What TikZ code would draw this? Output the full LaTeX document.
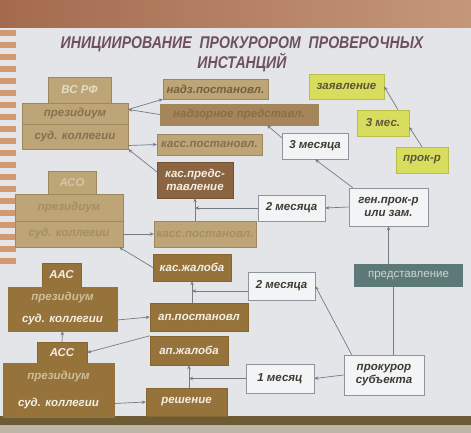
\documentclass[tikz,border=0pt]{standalone}
\usepackage{fontspec}
\setmainfont{Liberation Sans}
\usetikzlibrary{arrows.meta}

\definecolor{wallA}{HTML}{A46A4E}
\definecolor{wallB}{HTML}{C5977A}
\definecolor{slidebg}{HTML}{E3E5E9}
\definecolor{stripe}{HTML}{D39A72}
\definecolor{bandA}{HTML}{6B5C36}
\definecolor{bandB}{HTML}{BDB5A6}
\definecolor{titlecol}{HTML}{6E5159}
\definecolor{tanfill}{HTML}{BDA578}
\definecolor{tanedge}{HTML}{9D875C}
\definecolor{tantext}{HTML}{86704E}
\definecolor{lighttan}{HTML}{E3DCCB}
\definecolor{nadztext}{HTML}{76603F}
\definecolor{midbrown}{HTML}{A6855B}
\definecolor{midtext}{HTML}{8C6D48}
\definecolor{darkfill}{HTML}{8B6541}
\definecolor{darkedge}{HTML}{735232}
\definecolor{lighttext}{HTML}{F3EEE6}
\definecolor{asolight}{HTML}{D3C6A6}
\definecolor{asofaint}{HTML}{A58E63}
\definecolor{olivefill}{HTML}{96733A}
\definecolor{oliveedge}{HTML}{86652F}
\definecolor{olivefaint}{HTML}{CDBF9C}
\definecolor{wfill}{HTML}{F3F4F6}
\definecolor{wedge}{HTML}{8D949C}
\definecolor{wtext}{HTML}{3C3C32}
\definecolor{yfill}{HTML}{D8DD5E}
\definecolor{yedge}{HTML}{B9BD4A}
\definecolor{ytext}{HTML}{5A5838}
\definecolor{slatefill}{HTML}{5D7977}
\definecolor{slatetext}{HTML}{CBD6D4}
\definecolor{linegray}{HTML}{737B84}

\newcommand{\boxfont}{\bfseries\itshape\fontsize{11.5}{13}\selectfont}

\begin{document}
\begin{tikzpicture}[x=1pt,y=-1pt,
	sz/.style 2 args={minimum width=#1pt, minimum height=#2pt},
	lbox/.style={draw=tanedge, fill=tanfill, text=tantext, inner sep=0pt, align=center, font=\boxfont},
	dbox/.style={draw=darkedge, fill=darkfill, text=lighttext, inner sep=0pt, align=center, font=\boxfont},
	obox/.style={draw=oliveedge, fill=olivefill, text=lighttext, inner sep=0pt, align=center, font=\boxfont},
	wbox/.style={draw=wedge, fill=wfill, text=wtext, line width=0.6pt, inner sep=0pt, align=center, font=\boxfont},
	ybox/.style={draw=yedge, fill=yfill, text=ytext, inner sep=0pt, align=center, font=\boxfont},
	sbox/.style={fill=slatefill, text=slatetext, inner sep=0pt, font=\fontsize{11.5}{13}\selectfont},
	arr/.style={draw=linegray, line width=0.7pt, -{Stealth[length=4pt,width=3.5pt]}},
	link/.style={draw=linegray, line width=0.7pt}]
		\useasboundingbox (0,0) rectangle (471,433);
		% Background
		\fill[left color=wallA, right color=wallB] (0,0) rectangle (471,30);
		\fill[slidebg] (0,28) rectangle (471,418);
		\foreach \y in {30,42,...,258}
			\fill[stripe] (0,\y) rectangle (16,\y+6);
		\fill[bandA] (0,416) rectangle (471,425);
		\fill[bandB] (0,425) rectangle (471,433);
		% Title
		\node[font=\bfseries\itshape\fontsize{17}{18}\selectfont, text=titlecol, align=center, inner sep=0pt, xscale=0.83] (title) at (242,54) {ИНИЦИИРОВАНИЕ\ \ ПРОКУРОРОМ\ \ ПРОВЕРОЧНЫХ\\ИНСТАНЦИЙ};
		% ВС РФ
		\node[lbox, sz={63}{26}, text=lighttan] (vsTop) at (79.5,90) {ВС РФ};
		\node[lbox, sz={106}{21}] (vsPres) at (75,113.5) {президиум};
		\node[lbox, sz={106}{25}] (vsKoll) at (75,136.5) {суд. коллегии};
		\node[lbox, sz={105}{20}, text=nadztext] (nadzPost) at (215.5,89) {надз.постановл.};
		\node[lbox, sz={158}{21}, fill=midbrown, text=midtext] (nadzPred) at (239,114.5) {надзорное представл.};
		\node[lbox, sz={105}{21}] (kassPostVS) at (209.5,144.5) {касс.постановл.};
		\node[dbox, sz={76}{36}] (kasPred) at (195,180) {кас.предс-\\тавление};
		% АСО
		\node[lbox, sz={48}{23}, text=asolight] (asoTop) at (72,182.5) {АСО};
		\node[lbox, sz={108}{27}, text=asofaint] (asoPres) at (69,207.5) {президиум};
		\node[lbox, sz={108}{26}, text=asofaint] (asoKoll) at (69,234) {суд. коллегии};
		\node[lbox, sz={102}{26}, text=asofaint] (kassPostASO) at (205,234) {касс.постановл.};
		% ААС
		\node[obox, sz={39}{24}] (aasTop) at (61.5,275) {ААС};
		\node[obox, sz={109}{22}, draw=olivefill, text=olivefaint] (aasPres) at (62.5,298) {президиум};
		\node[obox, sz={109}{22}, draw=olivefill] (aasKoll) at (62.5,320) {суд. коллегии};
		\node[obox, sz={78}{27}] (kasZhal) at (192,267.5) {кас.жалоба};
		\node[obox, sz={98}{28}] (apPost) at (199,317) {ап.постановл};
		% АСС
		\node[obox, sz={50}{21}] (assTop) at (62,352.5) {АСС};
		\node[obox, sz={111}{27}, draw=olivefill, text=olivefaint] (assPres) at (58.5,376.5) {президиум};
		\node[obox, sz={111}{27}, draw=olivefill] (assKoll) at (58.5,403.5) {суд. коллегии};
		\node[obox, sz={78}{29}] (apZhal) at (189,350.5) {ап.жалоба};
		\node[obox, sz={81}{28}] (reshenie) at (186.5,402) {решение};
		% Terms
		\node[wbox, sz={66}{26}] (term3) at (315,146) {3 месяца};
		\node[wbox, sz={67}{26}] (term2a) at (291.5,208) {2 месяца};
		\node[wbox, sz={67}{28}] (term2b) at (281.5,286) {2 месяца};
		\node[wbox, sz={68}{29}] (term1) at (280,378.5) {1 месяц};
		% Prosecutors
		\node[wbox, sz={79}{38}] (genProk) at (388.5,207) {ген.прок-р\\или зам.};
		\node[wbox, sz={80}{40}] (prokSub) at (384,375) {прокурор\\субъекта};
		\node[sbox, sz={109}{23}] (predst) at (408.5,275.5) {представление};
		% Applicant
		\node[ybox, sz={75}{25}] (zayav) at (346.5,86.5) {заявление};
		\node[ybox, sz={52}{26}] (mes3) at (383,123) {3 мес.};
		\node[ybox, sz={52}{26}] (prokR) at (422,160) {прок-р};
		% Connectors, top level
		\draw[arr] (nadzPred.west) -- ([yshift=4pt]vsPres.east);
		\draw[arr] ([yshift=4pt]vsPres.east) -- (nadzPost.south west);
		\draw[arr] ([yshift=-9pt]vsKoll.east) -- (kassPostVS.west);
		\draw[arr] ([yshift=-10pt]kasPred.north west) -- (vsKoll.south east);
		\draw[arr] ([yshift=-5pt]term3.north west) -- ([xshift=28pt]nadzPred.south);
		\draw[arr] ([xshift=4pt]genProk.north west) -- (term3.south);
		\draw[arr] (prokR.north) -- ([yshift=-4pt]mes3.east);
		\draw[arr] ([xshift=15pt]mes3.north) -- (zayav.east);
		% Connectors, АСО
		\draw[arr] (genProk.west) -- (term2a.east);
		\draw[arr] ([xshift=-10pt]kassPostASO.north) -- ([xshift=-10pt]kassPostASO.north |- kasPred.south);
		\draw[arr] (term2a.west) -- (term2a.west -| kasPred.south);
		\draw[arr] (asoKoll.east) -- (kassPostASO.west);
		\draw[arr] (kasZhal.west) -- ([xshift=-4pt]asoKoll.south east);
		% Connectors, ААС
		\draw[arr] ([xshift=-7pt]apPost.north) -- (kasZhal.south);
		\draw[arr] ([yshift=-5pt]term2b.west) -- ([yshift=-5pt]term2b.west -| kasZhal.south);
		\draw[arr] (aasKoll.east) -- (apPost.west);
		\draw[arr] (apZhal.north west) -- (assTop.east);
		\draw[arr] (assTop.north) -- (aasKoll.south);
		% Connectors, АСС
		\draw[arr] (assKoll.east) -- (reshenie.west);
		\draw[arr] ([xshift=2.5pt]reshenie.north) -- (apZhal.south);
		\draw[arr] (term1.west) -- (term1.west -| apZhal.south);
		\draw[arr] (prokSub.west) -- (term1.east);
		\draw[arr] ([xshift=8pt]prokSub.north west) -- (term2b.east);
		\draw[link] ([xshift=9pt]prokSub.north) -- ([xshift=9pt]prokSub.north |- predst.south);
		\draw[arr] (genProk.south |- predst.north) -- (genProk.south);
	\end{tikzpicture}
\end{document}
